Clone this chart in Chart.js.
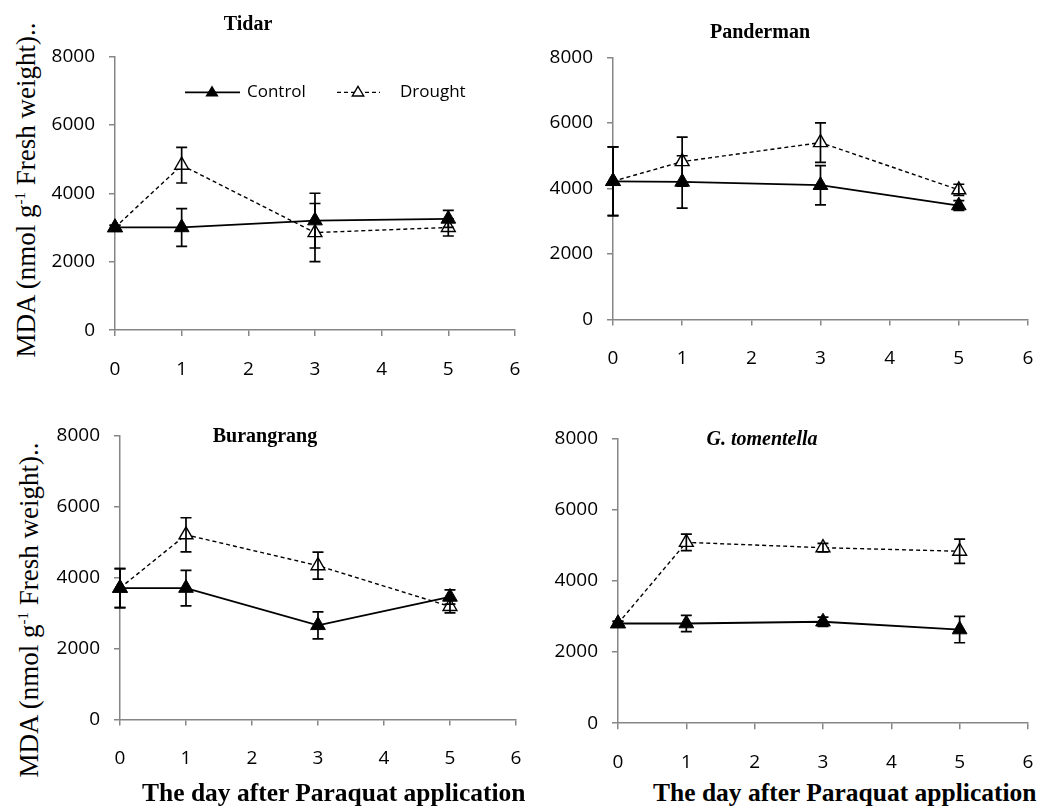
<!DOCTYPE html>
<html>
<head>
<meta charset="utf-8">
<script src="https://cdn.jsdelivr.net/npm/chart.js@4.4.0/dist/chart.umd.min.js"></script>
<style>
  body { margin: 0; background: #fff; width: 1053px; height: 810px; position: relative; overflow: hidden; }
  canvas { position: absolute; }
  .title { position: absolute; font-family: "Liberation Serif", "Times New Roman", serif; font-weight: bold; font-size: 20px; transform: translateX(-50%); white-space: nowrap; line-height: 1; }
  .ylab { position: absolute; font-family: "Liberation Serif", "Times New Roman", serif; font-size: 27px; white-space: nowrap; transform: translate(-50%, -50%) rotate(-90deg); line-height: 1; }
  .ylab sup { font-size: 15px; vertical-align: 10px; }
  .xlab { position: absolute; font-family: "Liberation Serif", "Times New Roman", serif; font-weight: bold; font-size: 25.5px; white-space: nowrap; line-height: 1; }
  .clip { position: absolute; left: 0; top: 760px; width: 532px; height: 50px; overflow: hidden; }
</style>
</head>
<body>
<canvas id="tidar"></canvas>
<canvas id="panderman"></canvas>
<canvas id="burangrang"></canvas>
<canvas id="tomentella"></canvas>

<div class="title" style="left:248px; top:13px;">Tidar</div>
<div class="title" style="left:760px; top:21px;">Panderman</div>
<div class="title" style="left:265px; top:425px;">Burangrang</div>
<div class="title" style="left:762px; top:428px; font-style:italic;">G. tomentella</div>

<div class="ylab" style="left:26px; top:190px;">MDA (nmol g<sup>-1</sup> Fresh weight)..</div>
<div class="ylab" style="left:29px; top:610px;">MDA (nmol g<sup>-1</sup> Fresh weight)..</div>

<div class="clip"><div class="xlab" style="left:142px; top:20px;">The day after Paraquat application</div></div>
<div class="xlab" style="left:653px; top:780px;">The day after Paraquat application</div>

<script>
// days sampled
const days = [0, 1, 3, 5];
const xTicks = [0, 1, 2, 3, 4, 5, 6];
const yTicks = [0, 2000, 4000, 6000, 8000];

// Tidar
const tidarControl = [3000, 3000, 3200, 3250];
const tidarControlErr = [60, 550, 800, 250];
const tidarDrought = [3000, 4820, 2850, 3000];
const tidarDroughtErr = [60, 520, 850, 250];

// Panderman
const pandermanControl = [4220, 4200, 4100, 3480];
const pandermanControlErr = [1050, 800, 600, 150];
const pandermanDrought = [4220, 4820, 5400, 3960];
const pandermanDroughtErr = [1050, 750, 600, 170];

// Burangrang
const burangrangControl = [3700, 3700, 2650, 3450];
const burangrangControlErr = [550, 500, 380, 200];
const burangrangDrought = [3700, 5200, 4330, 3180];
const burangrangDroughtErr = [550, 480, 380, 180];

// G. tomentella
const tomentellaControl = [2800, 2800, 2850, 2630];
const tomentellaControlErr = [60, 230, 130, 370];
const tomentellaDrought = [2800, 5080, 4930, 4830];
const tomentellaDroughtErr = [60, 230, 120, 340];

const axisGray = '#868686';
const tickFont = { family: 'Open Sans', size: 19 };

// Error bars drawn through the chart's own scales
const errorBars = {
    id: 'errorBars',
    afterDatasetsDraw(chart) {
        const ctx = chart.ctx;
        const xs = chart.scales.x, ys = chart.scales.y;
        ctx.save();
        ctx.strokeStyle = '#000';
        ctx.lineWidth = 1.7;
        chart.data.datasets.forEach(ds => {
            ds.data.forEach((p, i) => {
                const e = ds.errors[i];
                const x = xs.getPixelForValue(p.x);
                const top = ys.getPixelForValue(p.y + e);
                const bot = ys.getPixelForValue(p.y - e);
                ctx.beginPath();
                ctx.moveTo(x, top); ctx.lineTo(x, bot);
                ctx.moveTo(x - 5.5, top); ctx.lineTo(x + 5.5, top);
                ctx.moveTo(x - 5.5, bot); ctx.lineTo(x + 5.5, bot);
                ctx.stroke();
            });
        });
        ctx.restore();
    }
};

// Legend inside the first panel
const insideLegend = {
    id: 'insideLegend',
    afterDraw(chart) {
        if (!chart.options.plugins.insideLegend.show) return;
        const ctx = chart.ctx;
        const a = chart.chartArea;
        const y = a.top + 36;
        ctx.save();
        ctx.strokeStyle = '#000';
        ctx.fillStyle = '#000';
        ctx.lineWidth = 1.8;
        ctx.beginPath();
        ctx.moveTo(a.left + 70, y); ctx.lineTo(a.left + 125, y);
        ctx.stroke();
        drawTri(ctx, a.left + 97, y, 7, true);
        ctx.setLineDash([4, 3]);
        ctx.lineWidth = 1.4;
        ctx.beginPath();
        ctx.moveTo(a.left + 222, y); ctx.lineTo(a.left + 265, y);
        ctx.stroke();
        ctx.setLineDash([]);
        drawTri(ctx, a.left + 243, y, 6, false);
        ctx.font = '17px "Open Sans"';
        ctx.textBaseline = 'middle';
        ctx.fillStyle = '#000';
        ctx.fillText('Control', a.left + 132, y);
        ctx.fillText('Drought', a.left + 285, y);
        ctx.restore();
    }
};

function drawTri(ctx, x, y, r, filled) {
    ctx.beginPath();
    ctx.moveTo(x, y - r);
    ctx.lineTo(x + r * 0.95, y + r * 0.6);
    ctx.lineTo(x - r * 0.95, y + r * 0.6);
    ctx.closePath();
    if (filled) { ctx.fillStyle = '#000'; ctx.fill(); }
    else { ctx.fillStyle = '#fff'; ctx.fill(); ctx.lineWidth = 1.4; ctx.stroke(); }
}

function toPoints(vals) {
    return days.map((d, i) => ({ x: d, y: vals[i] }));
}

function makePanel(id, area, control, controlErr, drought, droughtErr, legend) {
    const yW = 70, xH = 55, padTop = 14, padRight = 16;
    const cv = document.getElementById(id);
    cv.width = area.right - area.left + yW + padRight;
    cv.height = area.bottom - area.top + padTop + xH;

    const chart = new Chart(cv, {
        type: 'line',
        data: {
            datasets: [
                {
                    label: 'Control',
                    data: toPoints(control),
                    errors: controlErr,
                    borderColor: '#000',
                    borderWidth: 1.8,
                    pointStyle: 'triangle',
                    pointRadius: 8.5,
                    pointBackgroundColor: '#000',
                    pointBorderColor: '#000',
                    pointBorderWidth: 1,
                    tension: 0,
                    clip: false
                },
                {
                    label: 'Drought',
                    data: toPoints(drought),
                    errors: droughtErr,
                    borderColor: '#000',
                    borderWidth: 1.4,
                    borderDash: [4, 3],
                    pointStyle: 'triangle',
                    pointRadius: 8,
                    pointBackgroundColor: '#fff',
                    pointBorderColor: '#000',
                    pointBorderWidth: 1.4,
                    tension: 0,
                    clip: false
                }
            ]
        },
        options: {
            responsive: false,
            animation: false,
            devicePixelRatio: 1,
            layout: { padding: { top: padTop, right: padRight, left: 0, bottom: 0 } },
            plugins: {
                legend: { display: false },
                tooltip: { enabled: false },
                insideLegend: { show: legend }
            },
            scales: {
                x: {
                    type: 'linear',
                    min: 0, max: 6,
                    afterFit: s => { s.height = xH; },
                    afterBuildTicks: s => { s.ticks = xTicks.map(v => ({ value: v })); },
                    border: { display: true, color: axisGray, width: 1.5 },
                    grid: { drawOnChartArea: false, drawTicks: true, tickLength: 6, color: axisGray, lineWidth: 1.5 },
                    ticks: { color: '#000', font: tickFont, padding: 22, maxRotation: 0, callback: v => String(v) }
                },
                y: {
                    type: 'linear',
                    min: 0, max: 8000,
                    afterFit: s => { s.width = yW; },
                    afterBuildTicks: s => { s.ticks = yTicks.map(v => ({ value: v })); },
                    border: { display: true, color: axisGray, width: 1.5 },
                    grid: { drawOnChartArea: false, drawTicks: true, tickLength: 6, color: axisGray, lineWidth: 1.5 },
                    ticks: { color: '#000', font: tickFont, padding: 14, callback: v => String(v) }
                }
            }
        },
        plugins: [errorBars, insideLegend]
    });

    // grow the canvas so the plot box gets the wanted size, then place it
    let ca = chart.chartArea;
    const dw = (area.right - area.left) - (ca.right - ca.left);
    const dh = (area.bottom - area.top) - (ca.bottom - ca.top);
    if (dw || dh) chart.resize(cv.width + dw, cv.height + dh);
    ca = chart.chartArea;
    cv.style.left = (area.left - ca.left) + 'px';
    cv.style.top = (area.top - ca.top) + 'px';
}

makePanel('tidar', { left: 115, right: 515, top: 56, bottom: 333 },
    tidarControl, tidarControlErr, tidarDrought, tidarDroughtErr, true);
makePanel('panderman', { left: 613, right: 1028, top: 57, bottom: 323 },
    pandermanControl, pandermanControlErr, pandermanDrought, pandermanDroughtErr, false);
makePanel('burangrang', { left: 120, right: 516, top: 435, bottom: 722 },
    burangrangControl, burangrangControlErr, burangrangDrought, burangrangDroughtErr, false);
makePanel('tomentella', { left: 618, right: 1028, top: 438, bottom: 726 },
    tomentellaControl, tomentellaControlErr, tomentellaDrought, tomentellaDroughtErr, false);
</script>
</body>
</html>
